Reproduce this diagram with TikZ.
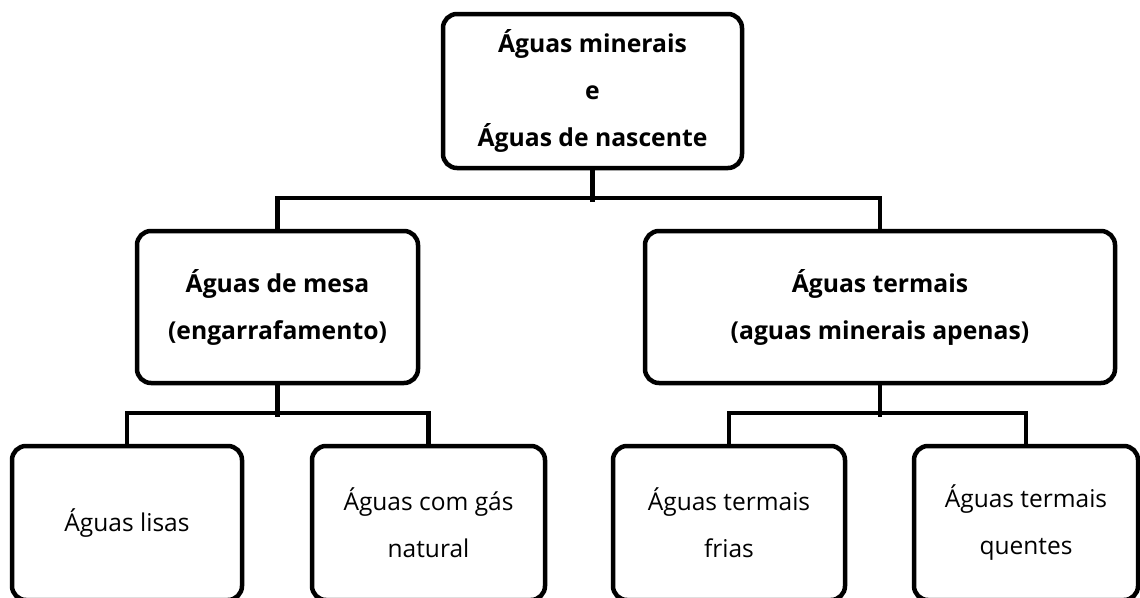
\documentclass[tikz,border=0pt]{standalone}
\usepackage{fontspec}
\setmainfont{Open Sans}
\begin{document}
\begin{tikzpicture}[x=1pt,y=-1pt,
  box/.style={draw=black, line width=4.5pt, rounded corners=14pt, align=center, inner sep=0pt},
  boldtxt/.style={font=\fontsize{24.7}{47}\selectfont\bfseries},
  regtxt/.style={font=\fontsize{24.5}{47}\selectfont},
  conn/.style={draw=black, line width=4.5pt}]
\useasboundingbox (0,0) rectangle (1140,597);
% top
\node[box, boldtxt, minimum width=299pt, minimum height=154pt] (top) at (592.5,91)
  {Águas minerais\\e\\Águas de nascente};
% middle
\node[box, boldtxt, minimum width=281pt, minimum height=152pt] (ml) at (277.5,307)
  {Águas de mesa\\(engarrafamento)};
\node[box, boldtxt, minimum width=470pt, minimum height=152pt] (mr) at (880,307)
  {Águas termais\\(aguas minerais apenas)};
% bottom
\node[box, regtxt, minimum width=230pt, minimum height=154pt] (b1) at (127,523)
  {Águas lisas};
\node[box, regtxt, minimum width=233pt, minimum height=154pt] (b2) at (428.5,523)
  {Águas com gás\\natural};
\node[box, regtxt, minimum width=232pt, minimum height=154pt] (b3) at (729,523)
  {Águas termais\\frias};
\node[box, regtxt, minimum width=224pt, minimum height=154pt] (b4) at (1026,523)
  {Águas termais\\quentes};
% connectors
\draw[conn] (top.south) -- ++(0,32);
\draw[conn] (ml.north) -- ++(0,-31) -| (mr.north);
\draw[conn] (ml.south) -- ++(0,32);
\draw[conn] (b1.north) -- ++(0,-31) -| (b2.north);
\draw[conn] (mr.south) -- ++(0,32);
\draw[conn] (b3.north) -- ++(0,-31) -| (b4.north);
\end{tikzpicture}
\end{document}
